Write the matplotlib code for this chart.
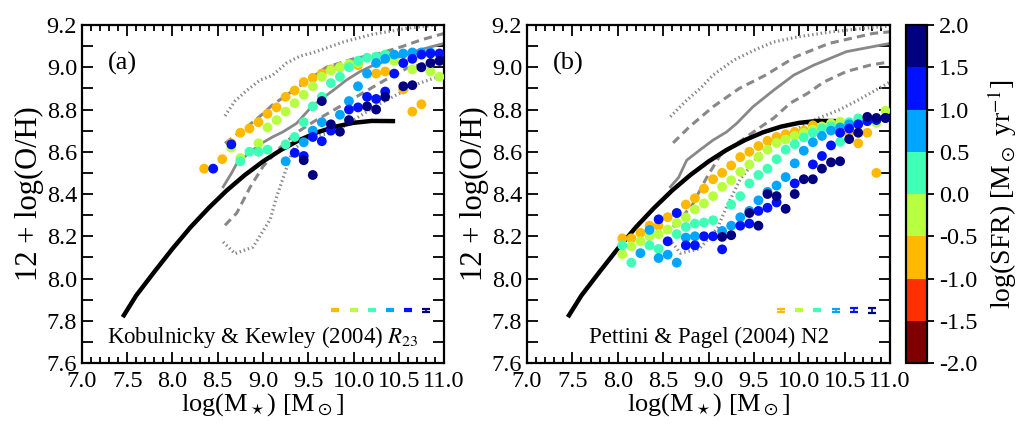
import numpy as np
import matplotlib
matplotlib.use('Agg')
import matplotlib.pyplot as plt
from matplotlib.colors import ListedColormap, BoundaryNorm
from matplotlib.ticker import MultipleLocator

plt.rcParams['font.family'] = ['Liberation Serif', 'DejaVu Serif']
plt.rcParams['mathtext.fontset'] = 'stix'
plt.rcParams['font.size'] = 16

# SFR bins (log SFR) and their colours
sfr_edges = [-2.0, -1.5, -1.0, -0.5, 0.0, 0.5, 1.0, 1.5, 2.0]
sfr_bins = [-0.75, -0.25, 0.25, 0.75, 1.25, 1.75]

# ---- panel (a): Kobulnicky & Kewley (2004) R23 ----
kk_m_1 = [8.35, 8.55, 8.65, 8.75, 8.85, 8.95, 9.05, 9.15, 9.25, 9.35, 9.45, 9.55, 9.65, 9.75,
          9.85, 9.95, 10.05, 10.25, 10.35, 10.55, 10.65, 10.75]
kk_oh_1 = [8.52, 8.565, 8.64, 8.69, 8.71, 8.74, 8.78, 8.81, 8.86, 8.89, 8.93, 8.95, 8.97, 8.99,
           9.0, 9.01, 9.01, 8.97, 8.98, 8.895, 8.79, 8.825]
kk_m_2 = [8.65, 8.75, 8.95, 9.05, 9.15, 9.25, 9.35, 9.45, 9.55, 9.65, 9.75, 9.85, 9.95, 10.05,
          10.45, 10.65, 10.85, 10.95]
kk_oh_2 = [8.62, 8.57, 8.64, 8.715, 8.75, 8.79, 8.83, 8.87, 8.91, 8.955, 8.985, 9.0, 9.015, 9.02,
           9.03, 8.99, 8.98, 8.955]
kk_m_3 = [8.75, 8.85, 8.95, 9.05, 9.25, 9.35, 9.45, 9.55, 9.65, 9.75, 9.85, 9.95, 10.05, 10.15,
          10.25, 10.35]
kk_oh_3 = [8.555, 8.60, 8.60, 8.61, 8.635, 8.67, 8.74, 8.815, 8.86, 8.925, 8.955, 9.0, 9.03, 9.045,
           9.05, 9.06]
kk_m_4 = [9.25, 9.45, 9.55, 9.65, 9.85, 9.95, 10.05, 10.15, 10.25, 10.35, 10.45, 10.55, 10.65,
          10.75, 10.85]
kk_oh_4 = [8.555, 8.645, 8.70, 8.74, 8.775, 8.84, 8.91, 8.97, 9.02, 9.04, 9.06, 9.065, 9.07,
           9.07, 9.07]
kk_m_5 = [8.45, 8.65, 9.35, 9.45, 9.55, 9.65, 9.75, 9.95, 10.05, 10.15, 10.25, 10.35, 10.45,
          10.55, 10.65, 10.75, 10.85, 10.95]
kk_oh_5 = [8.52, 8.635, 8.595, 8.58, 8.67, 8.65, 8.70, 8.80, 8.81, 8.86, 8.85, 8.885, 8.97,
           9.02, 9.04, 9.06, 9.065, 9.065]
kk_m_6 = [9.45, 9.55, 9.65, 9.75, 9.85, 9.95, 10.15, 10.25, 10.35, 10.55, 10.65, 10.75, 10.85, 10.95]
kk_oh_6 = [8.56, 8.49, 8.84, 8.73, 8.695, 8.75, 8.815, 8.80, 8.86, 8.91, 8.915, 9.0, 9.02, 9.03]

# SDSS distribution (median, dashed and dotted envelopes)
kk_med_m = [8.56, 8.65, 8.71, 8.82, 8.98, 9.11, 9.22, 9.37, 9.52, 9.63, 9.78, 9.92, 10.07, 10.22,
            10.40, 10.57, 10.73, 11.0]
kk_med_oh = [8.434, 8.497, 8.544, 8.584, 8.639, 8.671, 8.694, 8.734, 8.805, 8.845, 8.892, 8.939,
             8.979, 9.01, 9.034, 9.058, 9.082, 9.113]
kk_hi_m = [8.58, 8.8, 9.0, 9.1, 9.3, 9.5, 9.7, 10.0, 10.29, 10.53, 10.75, 11.0]
kk_hi_oh = [8.64, 8.71, 8.78, 8.82, 8.88, 8.94, 9.0, 9.04, 9.066, 9.097, 9.13, 9.16]
kk_lo_m = [8.58, 8.71, 8.86, 9.0, 9.19, 9.37, 9.55, 9.78, 10.11, 10.35, 10.59, 10.8, 11.0]
kk_lo_oh = [8.252, 8.31, 8.434, 8.53, 8.62, 8.69, 8.74, 8.797, 8.88, 8.94, 8.995, 9.02, 9.045]
kk_top_m = [8.58, 8.69, 8.82, 8.97, 9.10, 9.26, 9.41, 9.56, 9.89, 10.2, 10.6, 11.0]
kk_top_oh = [8.77, 8.84, 8.89, 8.94, 8.96, 9.02, 9.053, 9.07, 9.12, 9.155, 9.185, 9.205]
kk_bot_m = [8.56, 8.69, 8.89, 9.08, 9.15, 9.33, 9.52, 9.78, 10.0, 10.26, 10.5, 10.73, 11.0]
kk_bot_oh = [8.173, 8.118, 8.149, 8.28, 8.386, 8.61, 8.67, 8.69, 8.75, 8.82, 8.875, 8.925, 8.965]

# ---- panel (b): Pettini & Pagel (2004) N2 ----
pp_m_1 = [8.05, 8.15, 8.25, 8.35, 8.45, 8.55, 8.65, 8.75, 8.85, 8.95, 9.05, 9.15, 9.25, 9.35,
          9.45, 9.55, 9.65, 9.75, 9.85, 9.95, 10.05, 10.15, 10.55, 10.65, 10.75, 10.85]
pp_oh_1 = [8.19, 8.19, 8.216, 8.25, 8.25, 8.29, 8.31, 8.35, 8.38, 8.425, 8.47, 8.50, 8.535, 8.575,
           8.60, 8.627, 8.652, 8.67, 8.683, 8.694, 8.70, 8.725, 8.69, 8.64, 8.69, 8.50]
pp_m_2 = [8.05, 8.15, 8.25, 8.35, 8.45, 8.55, 8.65, 8.75, 8.85, 8.95, 9.05, 9.15, 9.25, 9.35,
          9.45, 9.55, 9.65, 9.75, 9.85, 9.95, 10.05, 10.15, 10.25, 10.35, 10.45, 10.85, 10.95]
pp_oh_2 = [8.115, 8.153, 8.176, 8.20, 8.21, 8.232, 8.263, 8.289, 8.327, 8.355, 8.39, 8.434, 8.465,
           8.505, 8.54, 8.576, 8.61, 8.642, 8.658, 8.675, 8.69, 8.705, 8.72, 8.734, 8.742, 8.737, 8.794]
pp_m_3 = [8.05, 8.15, 8.35, 8.45, 8.65, 8.75, 8.85, 8.95, 9.05, 9.25, 9.35, 9.45, 9.55, 9.65,
          9.75, 9.85, 9.95, 10.05, 10.15, 10.25, 10.35, 10.45, 10.55, 10.65]
pp_oh_3 = [8.157, 8.075, 8.157, 8.14, 8.21, 8.244, 8.26, 8.265, 8.276, 8.35, 8.39, 8.45, 8.49, 8.52,
           8.565, 8.61, 8.636, 8.668, 8.69, 8.71, 8.72, 8.647, 8.74, 8.758]
pp_m_4 = [8.25, 8.35, 8.45, 8.55, 8.65, 8.75, 8.85, 9.15, 9.25, 9.35, 9.45, 9.55, 9.65, 9.75,
          9.85, 9.95, 10.05, 10.15, 10.25, 10.35, 10.45, 10.55]
pp_oh_4 = [8.12, 8.23, 8.097, 8.113, 8.075, 8.194, 8.20, 8.225, 8.25, 8.29, 8.32, 8.37, 8.41, 8.44,
           8.48, 8.545, 8.605, 8.645, 8.675, 8.70, 8.715, 8.73]
pp_m_5 = [8.45, 8.55, 8.65, 8.75, 8.85, 8.95, 9.05, 9.15, 9.35, 9.45, 9.55, 9.65, 9.75, 9.95,
          10.15, 10.25, 10.35, 10.45, 10.55, 10.65, 10.75, 10.85, 10.95]
pp_oh_5 = [8.28, 8.176, 8.31, 8.157, 8.157, 8.20, 8.20, 8.138, 8.25, 8.26, 8.32, 8.335, 8.36, 8.45,
           8.54, 8.58, 8.63, 8.69, 8.71, 8.73, 8.745, 8.75, 8.76]
pp_m_6 = [9.15, 9.25, 9.45, 9.55, 9.65, 9.75, 9.85, 9.95, 10.05, 10.15, 10.25, 10.35, 10.45,
          10.55, 10.65, 10.75, 10.85, 10.95]
pp_oh_6 = [8.197, 8.205, 8.31, 8.25, 8.40, 8.39, 8.33, 8.40, 8.47, 8.47, 8.52, 8.55, 8.555,
           8.66, 8.69, 8.765, 8.76, 8.76]

pp_med_m = [8.58, 8.67, 8.76, 8.91, 9.05, 9.20, 9.31, 9.49, 9.72, 9.94, 10.16, 10.52, 11.0]
pp_med_oh = [8.434, 8.478, 8.56, 8.61, 8.655, 8.694, 8.734, 8.813, 8.892, 8.963, 9.01, 9.074, 9.113]
pp_hi_m = [8.61, 8.79, 9.05, 9.34, 9.63, 9.96, 10.33, 10.81, 11.0]
pp_hi_oh = [8.642, 8.718, 8.813, 8.90, 8.963, 9.05, 9.113, 9.16, 9.168]
pp_lo_m = [8.61, 8.82, 8.98, 9.13, 9.5, 9.72, 9.9, 10.09, 10.27, 10.52, 10.78, 11.0]
pp_lo_oh = [8.244, 8.347, 8.478, 8.584, 8.695, 8.76, 8.83, 8.876, 8.93, 8.98, 9.01, 9.026]
pp_top_m = [8.58, 8.75, 8.91, 9.05, 9.28, 9.5, 9.72, 10.0, 10.36, 10.85, 11.0]
pp_top_oh = [8.766, 8.84, 8.90, 8.963, 9.034, 9.08, 9.12, 9.145, 9.168, 9.19, 9.195]
pp_bot_m = [8.6, 8.69, 8.9, 9.1, 9.2, 9.35, 9.55, 9.72, 9.94, 10.16, 10.45, 10.65, 11.0]
pp_bot_oh = [8.17, 8.12, 8.14, 8.24, 8.34, 8.47, 8.58, 8.655, 8.70, 8.75, 8.80, 8.845, 8.93]

# fiducial relation (thick black)
fit_m = [7.45, 7.6, 7.8, 8.0, 8.2, 8.4, 8.6, 8.8, 9.0, 9.2, 9.4, 9.6, 9.8, 10.0, 10.2, 10.46]
fit_oh = [7.817, 7.92, 8.032, 8.141, 8.243, 8.334, 8.417, 8.49, 8.554, 8.609, 8.655, 8.692,
          8.719, 8.737, 8.746, 8.745]

# typical error bars
err_m = [9.8, 10.0, 10.2, 10.4, 10.6, 10.8]
err_oh = [7.85, 7.85, 7.85, 7.85, 7.85, 7.85]
kk_err = [0.004, 0.004, 0.004, 0.004, 0.005, 0.008]
pp_err = [0.008, 0.005, 0.005, 0.008, 0.01, 0.012]

cmap = ListedColormap(plt.cm.jet(np.linspace(0, 1, 8))[::-1])
norm = BoundaryNorm(sfr_edges, cmap.N)

fig = plt.figure(figsize=(10.35, 4.38), dpi=100)
ax_a = fig.add_axes([0.0792, 0.1712, 0.3498, 0.7717])
ax_b = fig.add_axes([0.5092, 0.1712, 0.3507, 0.7717])
cax = fig.add_axes([0.8754, 0.1712, 0.0203, 0.7717])

gray = '#888888'
panels = [
    (ax_a, [(kk_m_1, kk_oh_1), (kk_m_2, kk_oh_2), (kk_m_3, kk_oh_3), (kk_m_4, kk_oh_4),
            (kk_m_5, kk_oh_5), (kk_m_6, kk_oh_6)],
     (kk_med_m, kk_med_oh), (kk_hi_m, kk_hi_oh), (kk_lo_m, kk_lo_oh),
     (kk_top_m, kk_top_oh), (kk_bot_m, kk_bot_oh), kk_err,
     '(a)', 'Kobulnicky & Kewley (2004) $R_{23}$'),
    (ax_b, [(pp_m_1, pp_oh_1), (pp_m_2, pp_oh_2), (pp_m_3, pp_oh_3), (pp_m_4, pp_oh_4),
            (pp_m_5, pp_oh_5), (pp_m_6, pp_oh_6)],
     (pp_med_m, pp_med_oh), (pp_hi_m, pp_hi_oh), (pp_lo_m, pp_lo_oh),
     (pp_top_m, pp_top_oh), (pp_bot_m, pp_bot_oh), pp_err,
     '(b)', 'Pettini & Pagel (2004) N2'),
]

for ax, series, med, hi, lo, top, bot, err, tag, name in panels:
    ax.plot(top[0], top[1], color=gray, lw=2.3, ls=(0, (0.45, 0.9)))
    ax.plot(bot[0], bot[1], color=gray, lw=2.3, ls=(0, (0.45, 0.9)))
    ax.plot(hi[0], hi[1], color=gray, lw=2.2, ls=(0, (2.7, 1.7)))
    ax.plot(lo[0], lo[1], color=gray, lw=2.2, ls=(0, (2.7, 1.7)))
    ax.plot(med[0], med[1], color=gray, lw=2.0)
    ax.plot(fit_m, fit_oh, color='black', lw=3.2, solid_capstyle='butt')
    for (m, oh), s in zip(series, sfr_bins):
        sc = ax.scatter(m, oh, c=[s] * len(m), cmap=cmap, norm=norm, s=50,
                        edgecolors='none', zorder=3)
    for x, y, e, s in zip(err_m, err_oh, err, sfr_bins):
        ax.errorbar(x, y, yerr=e, fmt='none', ecolor=cmap(norm(s)), elinewidth=1.2,
                    capsize=3, capthick=1.6)
    ax.text(0.072, 0.885, tag, transform=ax.transAxes, fontsize=19, va='center')
    ax.text(0.5, 0.077, name, transform=ax.transAxes, fontsize=16.5, ha='center', va='center')
    ax.set_xlim(7.0, 11.0)
    ax.set_ylim(7.6, 9.2)
    ax.xaxis.set_major_locator(MultipleLocator(0.5))
    ax.xaxis.set_minor_locator(MultipleLocator(0.1))
    ax.yaxis.set_major_locator(MultipleLocator(0.2))
    ax.yaxis.set_minor_locator(MultipleLocator(0.1))
    ax.xaxis.set_major_formatter(plt.FormatStrFormatter('%.1f'))
    ax.yaxis.set_major_formatter(plt.FormatStrFormatter('%.1f'))
    ax.tick_params(which='both', direction='in', top=True, right=True, width=1.3, labelsize=17.5)
    ax.tick_params(which='major', length=8)
    ax.tick_params(which='minor', length=4)
    ax.tick_params(axis='y', which='minor', length=8)
    ax.tick_params(axis='x', which='major', pad=6)
    for sp in ax.spines.values():
        sp.set_linewidth(1.6)
    ax.set_xlabel(r'log(M$_\star$) [M$_\odot$]', fontsize=19, labelpad=-1)
    ax.set_ylabel('12 + log(O/H)', fontsize=22, labelpad=2)

cb = fig.colorbar(sc, cax=cax, ticks=sfr_edges)
cb.ax.yaxis.set_major_formatter(plt.FormatStrFormatter('%.1f'))
cb.ax.tick_params(labelsize=17.5, width=1.3, length=5)
cb.outline.set_linewidth(1.6)
cb.set_label(r'log(SFR) [M$_\odot$ yr$^{-1}$]', fontsize=20, labelpad=6)

fig.savefig('out.png', dpi=100)
